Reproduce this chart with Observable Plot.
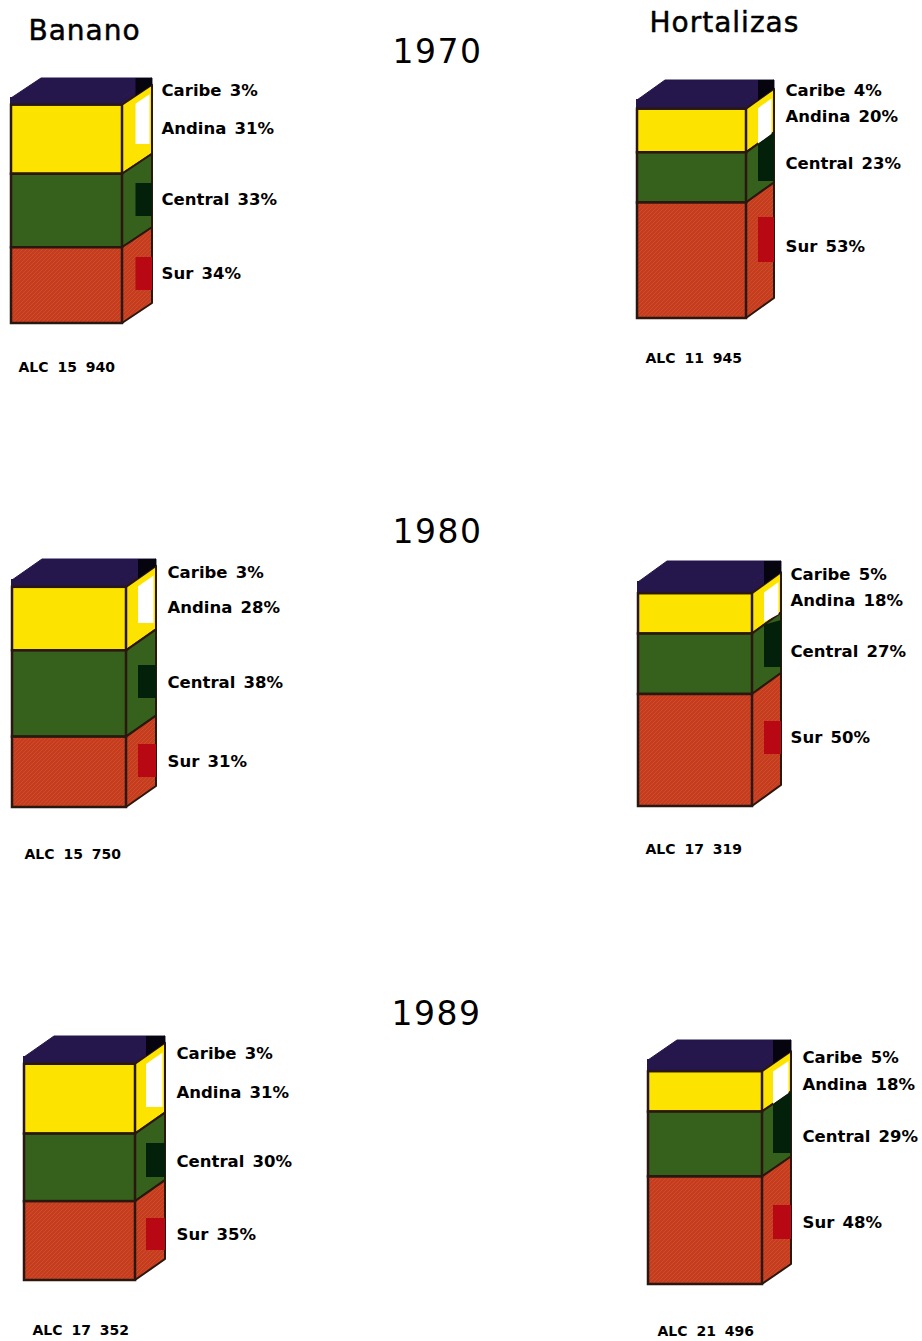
<!DOCTYPE html>
<html lang="es">
<head>
<meta charset="utf-8">
<script src="https://cdn.jsdelivr.net/npm/d3@7"></script>
<script src="https://cdn.jsdelivr.net/npm/@observablehq/plot@0.6"></script>
<style>
html,body{margin:0;padding:0;background:#fff}
svg{display:block}
</style>
</head>
<body>
<div id="chart"></div>
<script>
// ---- values
const regions = ["Caribe", "Andina", "Central", "Sur"];
const crops = ["Banano", "Hortalizas"];
const years = [1970, 1980, 1989];
const bananoShares1970 = [3, 31, 33, 34];
const hortalizasShares1970 = [4, 20, 23, 53];
const bananoShares1980 = [3, 28, 38, 31];
const hortalizasShares1980 = [5, 18, 27, 50];
const bananoShares1989 = [3, 31, 30, 35];
const hortalizasShares1989 = [5, 18, 29, 48];
const panelShares = [bananoShares1970, hortalizasShares1970, bananoShares1980, hortalizasShares1980, bananoShares1989, hortalizasShares1989];
const alcTotals = [15940, 11945, 15750, 17319, 17352, 21496];

// ---- page layout (placement on the page of each box, in page units)
const boxLeft = [11, 637, 12, 638, 24, 648];
const boxRight = [122, 746, 126, 752, 135, 762];
const boxTop = [98, 100, 580, 582, 1057, 1060];
const boxBottom = [323, 318, 807, 806, 1280, 1284];
const depthX = [30, 28, 30, 29, 30, 29];
const depthY = [20, 20, 21, 21, 21, 20];
const keyLeft = [135.5, 758, 138, 764, 146, 773];
const keyTops = [[0, 0, 183, 257], [0, 0, 130, 217], [0, 0, 665, 744], [0, 0, 620, 721], [0, 0, 1143, 1218], [0, 0, 1090, 1205]];
const keyBottoms = [[999, 144, 216, 290], [999, 999, 181, 262], [9999, 623, 698, 777], [9999, 622, 667, 754], [9999, 1107, 1177, 1250], [9999, 9999, 1153, 1239]];
const labelX = [161, 785, 167, 790, 176, 802];
const labelY = [[90, 128, 199, 273], [90, 116, 163, 246], [572, 607, 682, 761], [574, 600, 651, 737], [1053, 1092, 1161, 1234], [1057, 1084, 1136, 1222]];
const alcX = [18, 645, 24, 645, 32, 657];
const alcY = [367, 358, 854, 849, 1330, 1331];
const cropX = [28, 649];
const cropY = [31, 23];
const yearX = [437, 437, 436];
const yearY = [52, 532, 1014];

// ---- colours
const faceColors = ["#25174c", "#fde300", "#35611c", "url(#surTexture)"];
const keyColors = ["#06040e", "#ffffff", "#03200a", "#b80814"];
const edge = "#2a1710";

// ---- derived geometry
const faces = [], sides = [], tops = [], keys = [], labels = [], alc = [];
panelShares.forEach((shares, p) => {
  const pxPerPoint = (boxBottom[p] - boxTop[p]) / d3.sum(shares);
  const cum = d3.cumsum(shares);
  const L = boxLeft[p], R = boxRight[p], dx = depthX[p], dy = depthY[p], T = boxTop[p];
  const far = R + dx;
  tops.push(
    {id: p, x: L, y1: T, y2: T, r: "Caribe"},
    {id: p, x: L + dx, y1: T - dy, y2: T, r: "Caribe"},
    {id: p, x: R, y1: T - dy, y2: T, r: "Caribe"},
    {id: p, x: far, y1: T - dy, y2: T - dy, r: "Caribe"}
  );
  regions.forEach((r, i) => {
    const y1 = T + (i ? cum[i - 1] : 0) * pxPerPoint;
    const y2 = T + cum[i] * pxPerPoint;
    faces.push({x1: L, x2: R, y1, y2, r});
    const id = p + "-" + i;
    sides.push({id, x: R, y1, y2, r}, {id, x: far, y1: y1 - dy, y2: y2 - dy, r});
    const inset = r === "Andina" ? 8 : 0;
    const keyAt = (x) => {
      const f = (x - R) / dx;
      const top = r === "Caribe" ? T - dy : Math.max(keyTops[p][i], y1 - f * dy + inset);
      const bot = Math.min(keyBottoms[p][i], y2 - f * dy);
      return {id, x, y1: top, y2: bot, k: "Clave " + r};
    };
    const kRight = r === "Andina" ? far - 2.5 : far;
    keys.push(keyAt(keyLeft[p]), keyAt(kRight));
    labels.push({x: labelX[p], y: labelY[p][i], t: `${r} ${shares[i]}%`});
  });
  alc.push({x: alcX[p], y: alcY[p], t: "ALC " + d3.format(",")(alcTotals[p]).replace(",", " ")});
});
const cropLabels = crops.map((c, i) => ({x: cropX[i], y: cropY[i], t: c}));
const yearLabels = years.map((c, i) => ({x: yearX[i], y: yearY[i], t: String(c)}));

const textureDefs = () => {
  const defs = d3.create("svg:defs");
  const pat = defs.append("pattern").attr("id", "surTexture").attr("patternUnits", "userSpaceOnUse")
    .attr("width", 4).attr("height", 4);
  pat.append("rect").attr("width", 4).attr("height", 4).attr("fill", "#c63c22");
  pat.append("path").attr("d", "M0 4L4 0M-1 1L1 -1M3 5L5 3").attr("stroke", "#d0561c").attr("stroke-width", 1).attr("stroke-opacity", 0.7);
  return defs.node();
};

const isCaribe = d => d.r === "Caribe";
const notCaribe = d => d.r !== "Caribe";
const font = "'DejaVu Sans', sans-serif";
const chart = Plot.plot({
  width: 922, height: 1341,
  margin: 0,
  x: {domain: [0, 922], range: [0, 922], axis: null},
  y: {domain: [0, 1341], range: [0, 1341], axis: null},
  color: {
    domain: [...regions, ...regions.map(r => "Clave " + r)],
    range: [...faceColors, ...keyColors]
  },
  marks: [
    textureDefs,
    Plot.areaY(tops, {x: "x", y1: "y1", y2: "y2", z: "id", fill: "r", stroke: faceColors[0], strokeWidth: 1}),
    Plot.areaY(sides.filter(isCaribe), {x: "x", y1: "y1", y2: "y2", z: "id", fill: "r", stroke: faceColors[0], strokeWidth: 1}),
    Plot.areaY(sides.filter(notCaribe), {x: "x", y1: "y1", y2: "y2", z: "id", fill: "r", stroke: edge, strokeWidth: 2}),
    Plot.areaY(keys, {x: "x", y1: "y1", y2: "y2", z: "id", fill: "k"}),
    Plot.rect(faces.filter(isCaribe), {x1: "x1", x2: "x2", y1: "y1", y2: "y2", fill: "r", stroke: faceColors[0], strokeWidth: 2}),
    Plot.rect(faces.filter(notCaribe), {x1: "x1", x2: "x2", y1: "y1", y2: "y2", fill: "r", stroke: edge, strokeWidth: 2.5}),
    Plot.text(labels, {x: "x", y: "y", text: "t", textAnchor: "start", fontSize: 16.5, fontFamily: font, fontWeight: 600, fill: "#000"}),
    Plot.text(alc, {x: "x", y: "y", text: "t", textAnchor: "start", fontSize: 14, fontFamily: font, fontWeight: 700, fill: "#000"}),
    Plot.text(cropLabels, {x: "x", y: "y", text: "t", textAnchor: "start", fontSize: 28, fontFamily: font, fontWeight: 400, fill: "#000", stroke: "#000", strokeWidth: 0.5}),
    Plot.text(yearLabels, {x: "x", y: "y", text: "t", textAnchor: "middle", fontSize: 33, fontFamily: font, fontWeight: 400, fill: "#000"})
  ]
});
// Letter and word spacing of the four text marks, in the order they were added.
const textSpacing = [
  {word: "2.5px", letter: "0"},
  {word: "4px", letter: "0"},
  {word: "0", letter: "1px"},
  {word: "0", letter: "1.5px"}
];
d3.select(chart).selectAll('g[aria-label="text"]').each(function (_, i) {
  d3.select(this).style("word-spacing", textSpacing[i].word).style("letter-spacing", textSpacing[i].letter);
});
document.getElementById("chart").appendChild(chart);
</script>
</body>
</html>
